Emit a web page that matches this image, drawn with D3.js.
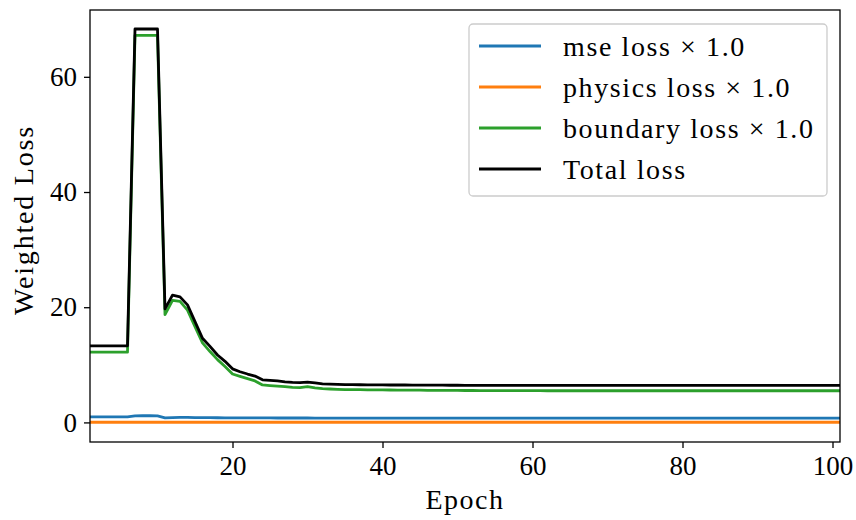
<!DOCTYPE html>
<html>
<head>
<meta charset="utf-8">
<script src="https://cdn.jsdelivr.net/npm/d3@7"></script>
<style>
  html, body { margin: 0; padding: 0; background: #fff; }
  svg { display: block; }
  text { font-family: "Liberation Serif", "DejaVu Serif", serif; fill: #000; }
</style>
</head>
<body>
<div id="chart"></div>
<script>
// Per-epoch loss history (epochs 1..101)
const epochs = d3.range(1, 102);

const mseLoss = [
  0.95, 0.95, 0.95, 0.95, 0.95, 0.95, 1.15, 1.16, 1.16, 1.14,
  0.80, 0.84, 0.88, 0.86, 0.84, 0.83, 0.82, 0.81, 0.80, 0.80,
  0.79, 0.79, 0.78, 0.78, 0.78, 0.77, 0.77, 0.77, 0.77, 0.77,
  0.76, 0.76, 0.76, 0.76, 0.76, 0.76, 0.76, 0.76, 0.76, 0.76,
  0.76, 0.76, 0.76, 0.76, 0.76, 0.76, 0.76, 0.76, 0.76, 0.76,
  0.76, 0.76, 0.76, 0.76, 0.76, 0.76, 0.76, 0.76, 0.76, 0.76,
  0.76, 0.76, 0.76, 0.76, 0.76, 0.76, 0.76, 0.76, 0.76, 0.76,
  0.76, 0.76, 0.76, 0.76, 0.76, 0.76, 0.76, 0.76, 0.76, 0.76,
  0.76, 0.76, 0.76, 0.76, 0.76, 0.76, 0.76, 0.76, 0.76, 0.76,
  0.76, 0.76, 0.76, 0.76, 0.76, 0.76, 0.76, 0.76, 0.76, 0.76,
  0.76
];

const physicsLoss = [
  0.03, 0.03, 0.03, 0.03, 0.03, 0.03, 0.03, 0.03, 0.03, 0.03,
  0.03, 0.03, 0.03, 0.03, 0.03, 0.03, 0.03, 0.03, 0.03, 0.03,
  0.03, 0.03, 0.03, 0.03, 0.03, 0.03, 0.03, 0.03, 0.03, 0.03,
  0.03, 0.03, 0.03, 0.03, 0.03, 0.03, 0.03, 0.03, 0.03, 0.03,
  0.03, 0.03, 0.03, 0.03, 0.03, 0.03, 0.03, 0.03, 0.03, 0.03,
  0.03, 0.03, 0.03, 0.03, 0.03, 0.03, 0.03, 0.03, 0.03, 0.03,
  0.03, 0.03, 0.03, 0.03, 0.03, 0.03, 0.03, 0.03, 0.03, 0.03,
  0.03, 0.03, 0.03, 0.03, 0.03, 0.03, 0.03, 0.03, 0.03, 0.03,
  0.03, 0.03, 0.03, 0.03, 0.03, 0.03, 0.03, 0.03, 0.03, 0.03,
  0.03, 0.03, 0.03, 0.03, 0.03, 0.03, 0.03, 0.03, 0.03, 0.03,
  0.03
];

const boundaryLoss = [
  12.2, 12.2, 12.2, 12.2, 12.2, 12.2, 67.2, 67.2, 67.2, 67.2,
  18.7, 21.2, 21.0, 19.5, 16.6, 13.8, 12.3, 10.9, 9.7, 8.4,
  8.0, 7.6, 7.2, 6.5, 6.4, 6.3, 6.2, 6.1, 6.05, 6.2,
  6.0, 5.85, 5.8, 5.75, 5.7, 5.7, 5.68, 5.66, 5.65, 5.64,
  5.63, 5.62, 5.61, 5.6, 5.59, 5.58, 5.57, 5.56, 5.55, 5.55,
  5.54, 5.54, 5.53, 5.53, 5.52, 5.52, 5.52, 5.51, 5.51, 5.51,
  5.51, 5.5, 5.5, 5.5, 5.5, 5.5, 5.5, 5.5, 5.5, 5.5,
  5.5, 5.5, 5.5, 5.5, 5.5, 5.5, 5.5, 5.5, 5.5, 5.5,
  5.5, 5.5, 5.5, 5.5, 5.5, 5.5, 5.5, 5.5, 5.5, 5.5,
  5.5, 5.5, 5.5, 5.5, 5.5, 5.5, 5.5, 5.5, 5.5, 5.5,
  5.5
];

const totalLoss = [
  13.3, 13.3, 13.3, 13.3, 13.3, 13.3, 68.3, 68.3, 68.3, 68.3,
  19.7, 22.1, 21.8, 20.4, 17.5, 14.6, 13.2, 11.7, 10.6, 9.3,
  8.8, 8.4, 8.05, 7.4, 7.3, 7.2, 7.05, 6.95, 6.9, 7.0,
  6.85, 6.7, 6.65, 6.6, 6.55, 6.55, 6.54, 6.53, 6.52, 6.51,
  6.5, 6.5, 6.5, 6.49, 6.48, 6.47, 6.46, 6.46, 6.45, 6.45,
  6.44, 6.44, 6.44, 6.43, 6.43, 6.43, 6.43, 6.42, 6.42, 6.42,
  6.42, 6.42, 6.42, 6.42, 6.42, 6.42, 6.42, 6.42, 6.42, 6.42,
  6.42, 6.42, 6.42, 6.42, 6.42, 6.42, 6.42, 6.42, 6.42, 6.42,
  6.42, 6.42, 6.42, 6.42, 6.42, 6.42, 6.42, 6.42, 6.42, 6.42,
  6.42, 6.42, 6.42, 6.42, 6.42, 6.42, 6.42, 6.42, 6.42, 6.42,
  6.42
];

const seriesNames = ["mse loss \u00d7 1.0", "physics loss \u00d7 1.0", "boundary loss \u00d7 1.0", "Total loss"];
const seriesColors = ["#1f77b4", "#ff7f0e", "#2ca02c", "#000000"];
const seriesValues = [mseLoss, physicsLoss, boundaryLoss, totalLoss];

const xTicks = [20, 40, 60, 80, 100];
const yTicks = [0, 20, 40, 60];

const width = 856, height = 520;
const plot = { left: 90, right: 840, top: 10, bottom: 442 };

const svg = d3.select("#chart").append("svg")
  .attr("width", width).attr("height", height);

const x = d3.scaleLinear().domain([1, 101]).range([plot.left, plot.right]);
const y = d3.scaleLinear().domain([-3.4, 71.6]).range([plot.bottom, plot.top]);

// Plot area clip
svg.append("defs").append("clipPath").attr("id", "plotclip")
  .append("rect")
  .attr("x", plot.left).attr("y", plot.top)
  .attr("width", plot.right - plot.left).attr("height", plot.bottom - plot.top);

const line = d3.line()
  .x((d, i) => x(epochs[i]))
  .y(d => y(d));

const lines = svg.append("g").attr("clip-path", "url(#plotclip)");
seriesValues.forEach((vals, k) => {
  lines.append("path")
    .datum(vals)
    .attr("fill", "none")
    .attr("stroke", seriesColors[k])
    .attr("stroke-width", 2.8)
    .attr("stroke-linejoin", "round")
    .attr("stroke-linecap", "square")
    .attr("d", line);
});

// Axes
const fontSize = 27;
const labelSize = 28;
const xAxis = svg.append("g")
  .attr("transform", `translate(0,${plot.bottom})`)
  .call(d3.axisBottom(x).tickValues(xTicks).tickSize(6).tickPadding(8).tickFormat(d3.format("d")));
const yAxis = svg.append("g")
  .attr("transform", `translate(${plot.left},0)`)
  .call(d3.axisLeft(y).tickValues(yTicks).tickSize(6).tickPadding(7).tickFormat(d3.format("d")));

[xAxis, yAxis].forEach(g => {
  g.select(".domain").remove();
  g.selectAll(".tick line").attr("stroke", "#000").attr("stroke-width", 1.3);
  g.selectAll(".tick text")
    .style("font-family", '"Liberation Serif", "DejaVu Serif", serif')
    .style("font-size", fontSize + "px").attr("fill", "#000");
});

// Frame
svg.append("rect")
  .attr("x", plot.left).attr("y", plot.top)
  .attr("width", plot.right - plot.left).attr("height", plot.bottom - plot.top)
  .attr("fill", "none").attr("stroke", "#000").attr("stroke-width", 1.3);

// Axis titles
svg.append("text")
  .attr("x", (plot.left + plot.right) / 2).attr("y", 509)
  .attr("text-anchor", "middle")
  .style("font-size", labelSize + "px")
  .style("letter-spacing", "1.5px")
  .text("Epoch");

svg.append("text")
  .attr("transform", `translate(33,${(plot.top + plot.bottom) / 2 - 6}) rotate(-90)`)
  .attr("text-anchor", "middle")
  .style("font-size", labelSize + "px")
  .style("letter-spacing", "1.8px")
  .text("Weighted Loss");

// Legend
const legend = svg.append("g");
legend.append("rect")
  .attr("x", 469).attr("y", 24).attr("width", 358).attr("height", 172)
  .attr("rx", 4).attr("ry", 4)
  .attr("fill", "rgba(255,255,255,0.8)")
  .attr("stroke", "#cccccc").attr("stroke-width", 1.3);

seriesNames.forEach((name, k) => {
  const ly = 46 + k * 41;
  legend.append("line")
    .attr("x1", 479).attr("x2", 541).attr("y1", ly).attr("y2", ly)
    .attr("stroke", seriesColors[k]).attr("stroke-width", 2.8);
  legend.append("text")
    .attr("x", 563).attr("y", ly + 10)
    .style("font-size", labelSize + "px")
    .style("letter-spacing", "1.6px")
    .text(name);
});
</script>
</body>
</html>
